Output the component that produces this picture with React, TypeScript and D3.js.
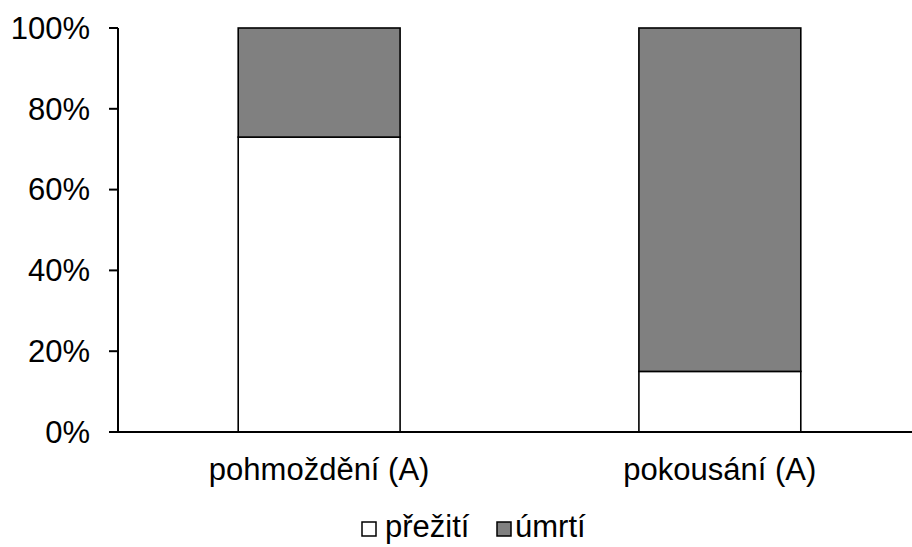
import React from "react";
import * as d3 from "d3";

const categories = ["pohmoždění (A)", "pokousání (A)"];
const survived = [73, 15];
const died = [27, 85];
const seriesNames = ["přežití", "úmrtí"];
const seriesColors = ["#ffffff", "#808080"];
const yTicks = [0, 20, 40, 60, 80, 100];

const W = 912;
const H = 547;
const FONT = "'Liberation Sans', Arial, sans-serif";

export default function App() {
  const x = d3.scaleBand<string>().domain(categories).range([118, 921]).paddingInner(0.596).paddingOuter(0.3);
  const y = d3.scaleLinear().domain([0, 100]).range([432, 28]);
  const stackData = categories.map((c, i) => ({ cat: c, s0: survived[i], s1: died[i] }));
  const stacked = d3.stack<any>().keys(["s0", "s1"])(stackData);
  const legendBox = [362, 497];
  const legendText = [385, 515];

  return (
    <svg width={W} height={H} style={{ position: "absolute", left: 0, top: 0, fontFamily: FONT }}>
      <rect width={W} height={H} fill="#fff" />
      {stacked.map((layer, li) =>
        layer.map((d, i) => (
          <rect
            key={`${li}-${i}`}
            x={x(categories[i])!}
            y={y(d[1])}
            width={x.bandwidth()}
            height={y(d[0]) - y(d[1])}
            fill={seriesColors[li]}
            stroke="#000"
            strokeWidth={1.6}
          />
        ))
      )}
      <line x1={118} x2={118} y1={y(100)} y2={y(0)} stroke="#000" strokeWidth={2} />
      {yTicks.map((t) => (
        <g key={t}>
          <line x1={109} x2={118} y1={y(t)} y2={y(t)} stroke="#000" strokeWidth={2} />
          <text x={90} y={y(t)} dy="0.35em" textAnchor="end" fontSize={31} fill="#000">
            {t}%
          </text>
        </g>
      ))}
      <line x1={109} x2={W} y1={y(0)} y2={y(0)} stroke="#000" strokeWidth={2} />
      {categories.map((c) => (
        <text key={c} x={x(c)! + x.bandwidth() / 2} y={480} textAnchor="middle" fontSize={31} fill="#000">
          {c}
        </text>
      ))}
      {seriesNames.map((n, i) => (
        <g key={n}>
          <rect x={legendBox[i]} y={522} width={14} height={14} fill={seriesColors[i]} stroke="#000" strokeWidth={1.5} />
          <text x={legendText[i]} y={537} fontSize={31} fill="#000">
            {n}
          </text>
        </g>
      ))}
    </svg>
  );
}
